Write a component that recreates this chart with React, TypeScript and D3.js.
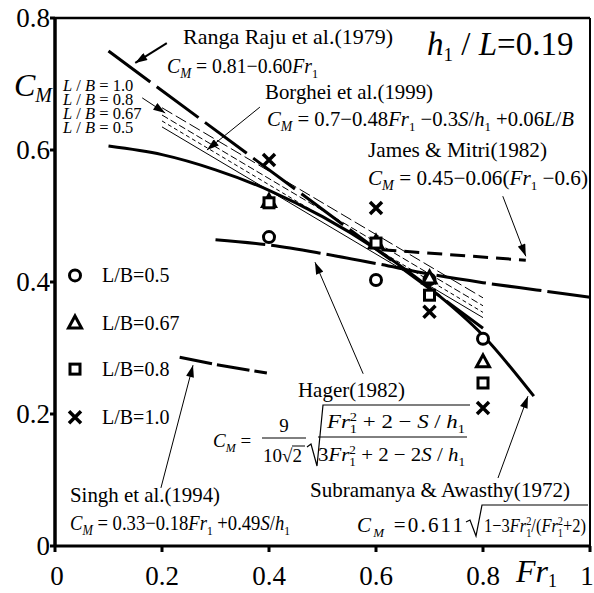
import React from 'react';
import * as d3 from 'd3';

// measured points: Fr1 at which the runs were made
const frPoints = [0.4, 0.6, 0.7, 0.8];
const cmLB05 = [0.468, 0.403, 0.404, 0.314];
const cmLB067 = [0.522, 0.46, 0.406, 0.279];
const cmLB08 = [0.52, 0.459, 0.38, 0.247];
const cmLB10 = [0.585, 0.512, 0.355, 0.209];

const rangaFr = [0.1, 0.8];
const rangaCm = [0.75, 0.33];
const subraFr = [0.1, 0.2, 0.3, 0.4, 0.5, 0.6, 0.7, 0.8, 0.895];
const subraCm = [0.606, 0.593, 0.57, 0.539, 0.499, 0.45, 0.391, 0.319, 0.227];
const hagerFr = [0.3, 0.4, 0.5, 0.6, 0.7, 0.8, 0.9, 1.0];
const hagerCm = [0.464, 0.456, 0.443, 0.428, 0.412, 0.399, 0.388, 0.377];
const jamesFr = [0.61, 0.88];
const jamesCm = [0.449, 0.433];
const singhFr = [0.233, 0.3, 0.396];
const singhCm = [0.286, 0.275, 0.262];
const borgheiFr = [0.2, 0.8];
const borghei10 = [0.664, 0.376];
const borghei08 = [0.653, 0.364];
const borghei067 = [0.644, 0.354];
const borghei05 = [0.635, 0.346];

const xTicks = [0, 0.2, 0.4, 0.6, 0.8, 1];
const xTickLabels = ['0', '0.2', '0.4', '0.6', '0.8', '1'];
const yTicks = [0, 0.2, 0.4, 0.6, 0.8];
const yTickLabels = ['0', '0.2', '0.4', '0.6', '0.8'];

const legendLabels = ['L/B=0.5', 'L/B=0.67', 'L/B=0.8', 'L/B=1.0'];
const legendCm = [0.41, 0.338, 0.268, 0.195];
const lbLabels = ['1.0', '0.8', '0.67', '0.5'];

// annotation arrows [fromFr, fromCm, toFr, toCm]
const arrows = [
  [0.209, 0.762, 0.15, 0.732],
  [0.163, 0.679, 0.206, 0.656],
  [0.383, 0.665, 0.284, 0.6],
  [0.837, 0.53, 0.88, 0.439],
  [0.576, 0.261, 0.486, 0.43],
  [0.198, 0.088, 0.258, 0.274],
  [0.828, 0.103, 0.884, 0.227],
];

const serif = 'Liberation Serif, DejaVu Serif, serif';

const W = 594;
const H = 593;

export default function App() {
  const x = d3.scaleLinear().domain([0, 1]).range([55, 590]);
  const y = d3.scaleLinear().domain([0, 0.8]).range([546, 18]);

  const line = d3.line<[number, number]>().x(d => x(d[0])).y(d => y(d[1]));
  const smooth = d3.line<[number, number]>().x(d => x(d[0])).y(d => y(d[1])).curve(d3.curveMonotoneX);
  const pts = (fr: number[], cm: number[]) => fr.map((f, i) => [f, cm[i]] as [number, number]);

  const circle = (cx: number, cy: number, k: string) => (
    <circle key={k} cx={cx} cy={cy} r={5.5} fill="#fff" stroke="#000" strokeWidth={3} />
  );
  const tri = (cx: number, cy: number, k: string) => (
    <path key={k} d={`M${cx},${cy - 7}L${cx + 6.5},${cy + 5}L${cx - 6.5},${cy + 5}Z`} fill="#fff" stroke="#000" strokeWidth={3} />
  );
  const sq = (cx: number, cy: number, k: string) => (
    <rect key={k} x={cx - 5} y={cy - 5} width={10} height={10} fill="#fff" stroke="#000" strokeWidth={3} />
  );
  const cross = (cx: number, cy: number, k: string) => (
    <path key={k} d={`M${cx - 6},${cy - 6}L${cx + 6},${cy + 6}M${cx - 6},${cy + 6}L${cx + 6},${cy - 6}`} stroke="#000" strokeWidth={3.5} />
  );
  const shapes = [circle, tri, sq, cross];
  const series = [cmLB05, cmLB067, cmLB08, cmLB10];

  const CM = (size = 14) => [
    <tspan key="c" fontStyle="italic">C</tspan>,
    <tspan key="m" fontStyle="italic" fontSize={size} dy={5}>M</tspan>,
  ];

  return (
    <svg width={W} height={H} style={{ position: 'absolute', left: 0, top: 0, background: '#fff', fontFamily: serif }}>
      <defs>
        <marker id="ah" viewBox="0 0 12 8" refX={12} refY={4} markerWidth={13} markerHeight={8} markerUnits="userSpaceOnUse" orient="auto">
          <path d="M0,0L12,4L0,8Z" fill="#000" />
        </marker>
      </defs>

      {/* frame */}
      <line x1={x(0)} x2={x(1)} y1={y(0.8)} y2={y(0.8)} stroke="#000" strokeWidth={2.5} />
      <line x1={x(1)} x2={x(1)} y1={y(0.8)} y2={y(0)} stroke="#000" strokeWidth={2} />
      <line x1={x(0)} x2={x(1) + 1} y1={y(0)} y2={y(0)} stroke="#000" strokeWidth={3} />
      <line x1={x(0)} x2={x(0)} y1={y(0.8) - 1} y2={y(0) + 1} stroke="#000" strokeWidth={3.5} />

      {yTicks.map((t, i) => (
        <g key={'y' + i}>
          <line x1={x(0) - 5} x2={x(0)} y1={y(t)} y2={y(t)} stroke="#000" strokeWidth={3} />
          <text x={x(0) - 5} y={y(t) + 9} fontSize={27} textAnchor="end">{yTickLabels[i]}</text>
        </g>
      ))}
      {xTicks.map((t, i) => (
        <g key={'x' + i}>
          <line x1={x(t)} x2={x(t)} y1={y(0)} y2={y(0) + 6} stroke="#000" strokeWidth={3} />
          <text x={x(t) + (i === 0 ? 2 : i === 5 ? -3 : 0)} y={585} fontSize={27} textAnchor="middle">{xTickLabels[i]}</text>
        </g>
      ))}

      {/* axis titles */}
      <text x={14} y={96} fontSize={32}>
        <tspan fontStyle="italic">C</tspan>
        <tspan fontStyle="italic" fontSize={20} dy={6}>M</tspan>
      </text>
      <text x={516} y={582} fontSize={32}>
        <tspan fontStyle="italic">Fr</tspan>
        <tspan fontSize={18} dy={5}>1</tspan>
      </text>

      {/* Borghei lines */}
      <g fill="none" stroke="#000" strokeWidth={1}>
        <path d={line(pts(borgheiFr, borghei10)) || ''} strokeDasharray="12 4" />
        <path d={line(pts(borgheiFr, borghei08)) || ''} strokeDasharray="7 3" />
        <path d={line(pts(borgheiFr, borghei067)) || ''} strokeDasharray="4 3" />
        <path d={line(pts(borgheiFr, borghei05)) || ''} />
      </g>

      {/* empirical curves */}
      <g fill="none" stroke="#000" strokeWidth={3}>
        <path d={smooth(pts(subraFr, subraCm)) || ''} />
        <path d={line(pts(rangaFr, rangaCm)) || ''} strokeDasharray="52 8" />
        <path d={smooth(pts(hagerFr, hagerCm)) || ''} strokeDasharray="50 6" />
        <path d={line(pts(jamesFr, jamesCm)) || ''} strokeDasharray="15 8" />
        <path d={line(pts(singhFr, singhCm)) || ''} strokeDasharray="33 5" />
      </g>

      {/* arrows */}
      <g stroke="#000">
        {arrows.map((a, i) => (
          <line key={'ar' + i} x1={x(a[0])} y1={y(a[1])} x2={x(a[2])} y2={y(a[3])} markerEnd="url(#ah)" strokeWidth={i === 0 ? 2 : 1} />
        ))}
      </g>

      {/* data points */}
      {series.map((s, j) => s.map((v, i) => shapes[j](x(frPoints[i]), y(v), `p${j}-${i}`)))}

      {/* legend */}
      {legendLabels.map((l, i) => (
        <g key={'lg' + i}>
          {shapes[i](75, y(legendCm[i]), 'lm' + i)}
          <text x={102} y={y(legendCm[i]) + 7} fontSize={20}>{l}</text>
        </g>
      ))}

      {/* L/B labels */}
      {lbLabels.map((v, i) => (
        <text key={'lb' + i} x={63} y={91 + i * 14} fontSize={16.5}>
          <tspan fontStyle="italic">L</tspan> / <tspan fontStyle="italic">B</tspan> = {v}
        </text>
      ))}

      {/* h1/L */}
      <text x={427} y={55} fontSize={33}>
        <tspan fontStyle="italic">h</tspan>
        <tspan fontSize={19} dy={6}>1</tspan>
        <tspan dy={-6}> / </tspan>
        <tspan fontStyle="italic">L</tspan>
        <tspan>=0.19</tspan>
      </text>

      {/* Ranga Raju */}
      <text x={183} y={44} fontSize={21.5} textLength={210} lengthAdjust="spacingAndGlyphs">Ranga Raju et al.(1979)</text>
      <text x={167} y={73} fontSize={21} textLength={151} lengthAdjust="spacingAndGlyphs">
        {CM()}
        <tspan dy={-5}> = 0.81−0.60</tspan>
        <tspan fontStyle="italic">Fr</tspan>
        <tspan fontSize={13} dy={5}>1</tspan>
      </text>

      {/* Borghei */}
      <text x={265} y={99} fontSize={21} textLength={168} lengthAdjust="spacingAndGlyphs">Borghei et al.(1999)</text>
      <text x={267} y={126} fontSize={21} textLength={307} lengthAdjust="spacingAndGlyphs">
        {CM()}
        <tspan dy={-5}> = 0.7−0.48</tspan>
        <tspan fontStyle="italic">Fr</tspan>
        <tspan fontSize={13} dy={5}>1</tspan>
        <tspan dy={-5}> −0.3</tspan>
        <tspan fontStyle="italic">S</tspan>
        <tspan>/</tspan>
        <tspan fontStyle="italic">h</tspan>
        <tspan fontSize={13} dy={5}>1</tspan>
        <tspan dy={-5}> +0.06</tspan>
        <tspan fontStyle="italic">L</tspan>
        <tspan>/</tspan>
        <tspan fontStyle="italic">B</tspan>
      </text>

      {/* James & Mitri */}
      <text x={368} y={157} fontSize={21} textLength={179} lengthAdjust="spacingAndGlyphs">James &amp; Mitri(1982)</text>
      <text x={368} y={185} fontSize={21} textLength={220} lengthAdjust="spacingAndGlyphs">
        {CM()}
        <tspan dy={-5}> = 0.45−0.06(</tspan>
        <tspan fontStyle="italic">Fr</tspan>
        <tspan fontSize={13} dy={5}>1</tspan>
        <tspan dy={-5}> −0.6)</tspan>
      </text>

      {/* Hager */}
      <text x={298} y={397} fontSize={21} textLength={107} lengthAdjust="spacingAndGlyphs">Hager(1982)</text>
      <g fontSize={19}>
        <text x={213} y={447}>
          {CM(12)}
          <tspan dy={-5}> =</tspan>
        </text>
        <text x={284} y={432} textAnchor="middle">9</text>
        <line x1={262} x2={306} y1={438} y2={438} stroke="#000" strokeWidth={1} />
        <text x={263} y={462}>10√2</text>
        <line x1={292} x2={305} y1={446} y2={446} stroke="#000" strokeWidth={1} />
        <path d="M307,447L311,444L317,466L323,405L470,405" fill="none" stroke="#000" strokeWidth={1.2} />
        <text x={327} y={428} textLength={138} lengthAdjust="spacingAndGlyphs">
          <tspan fontStyle="italic">Fr</tspan>
          <tspan fontSize={12} dy={5}>1</tspan>
          <tspan fontSize={12} dy={-12} dx={-6}>2</tspan>
          <tspan dy={7}> + 2 − </tspan>
          <tspan fontStyle="italic">S</tspan>
          <tspan> / </tspan>
          <tspan fontStyle="italic">h</tspan>
          <tspan fontSize={12} dy={5}>1</tspan>
        </text>
        <line x1={318} x2={467} y1={437} y2={437} stroke="#000" strokeWidth={1} />
        <text x={318} y={461} textLength={147} lengthAdjust="spacingAndGlyphs">
          <tspan>3</tspan>
          <tspan fontStyle="italic">Fr</tspan>
          <tspan fontSize={12} dy={5}>1</tspan>
          <tspan fontSize={12} dy={-12} dx={-6}>2</tspan>
          <tspan dy={7}> + 2 − 2</tspan>
          <tspan fontStyle="italic">S</tspan>
          <tspan> / </tspan>
          <tspan fontStyle="italic">h</tspan>
          <tspan fontSize={12} dy={5}>1</tspan>
        </text>
      </g>

      {/* Singh */}
      <text x={70} y={502} fontSize={21} textLength={150} lengthAdjust="spacingAndGlyphs">Singh et al.(1994)</text>
      <text x={70} y={530} fontSize={21} textLength={220} lengthAdjust="spacingAndGlyphs">
        {CM()}
        <tspan dy={-5}> = 0.33−0.18</tspan>
        <tspan fontStyle="italic">Fr</tspan>
        <tspan fontSize={13} dy={5}>1</tspan>
        <tspan dy={-5}> +0.49</tspan>
        <tspan fontStyle="italic">S</tspan>
        <tspan>/</tspan>
        <tspan fontStyle="italic">h</tspan>
        <tspan fontSize={13} dy={5}>1</tspan>
      </text>

      {/* Subramanya */}
      <text x={310} y={497} fontSize={21.5} textLength={260} lengthAdjust="spacingAndGlyphs">Subramanya &amp; Awasthy(1972)</text>
      <text x={357} y={532} fontSize={21} textLength={106} lengthAdjust="spacing">
        {CM(13)}
        <tspan dy={-5}> =0.611</tspan>
      </text>
      <path d="M466,522L470,520L476,536L482,505L588,505" fill="none" stroke="#000" strokeWidth={1.2} />
      <text x={484} y={532} fontSize={19} textLength={102} lengthAdjust="spacingAndGlyphs">
        <tspan>1−3</tspan>
        <tspan fontStyle="italic">Fr</tspan>
        <tspan fontSize={12} dy={5}>1</tspan>
        <tspan fontSize={12} dy={-12} dx={-6}>2</tspan>
        <tspan dy={7}>/(</tspan>
        <tspan fontStyle="italic">Fr</tspan>
        <tspan fontSize={12} dy={5}>1</tspan>
        <tspan fontSize={12} dy={-12} dx={-6}>2</tspan>
        <tspan dy={7}>+2)</tspan>
      </text>
    </svg>
  );
}
